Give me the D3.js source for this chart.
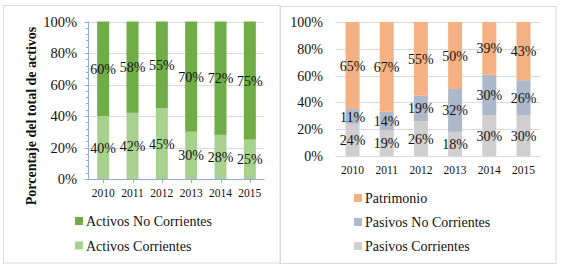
<!DOCTYPE html>
<html><head><meta charset="utf-8">
<script src="https://cdn.jsdelivr.net/npm/d3@7"></script>
<style>
body{margin:0;background:#fff;}
svg{display:block;}
text{font-family:"Liberation Serif","Times New Roman",serif;fill:#111;}
</style></head>
<body>
<svg id="c" width="562" height="268"></svg>
<script>
const years = ["2010","2011","2012","2013","2014","2015"];
const activosCorrientes = [40,42,45,30,28,25];
const activosNoCorrientes = [60,58,55,70,72,75];
const pasivosCorrientes = [24,19,26,18,30,30];
const pasivosNoCorrientes = [11,14,19,32,30,26];
const patrimonio = [65,67,55,50,39,43];
const yTicks = [0,0.2,0.4,0.6,0.8,1];
const yTitle = "Porcentaje del total de activos";

const svg = d3.select("#c");
const pct = d3.format(".0%");

// panel borders
svg.append("rect").attr("x",3.5).attr("y",5.5).attr("width",276.5).attr("height",257.5)
  .attr("fill","none").attr("stroke","#d9d9d9");
svg.append("rect").attr("x",280.5).attr("y",6.5).attr("width",275.5).attr("height",257)
  .attr("fill","none").attr("stroke","#d9d9d9");

function drawChart(cfg){
  const x = d3.scaleBand().domain(years).range(cfg.xr).paddingInner(0.59).paddingOuter(0.295);
  const y = d3.scaleLinear().domain([0,1]).range(cfg.yr);
  const g = svg.append("g");
  // gridlines
  g.selectAll(".grid").data(yTicks).join("line")
    .attr("x1",cfg.xr[0]).attr("x2",cfg.xr[1])
    .attr("y1",d=>Math.round(y(d))+0.5).attr("y2",d=>Math.round(y(d))+0.5)
    .attr("stroke","#d9d9d9");
  // y tick labels
  g.selectAll(".yl").data(yTicks).join("text")
    .attr("x",cfg.ylx).attr("y",d=>y(d)).attr("dy","0.36em")
    .attr("text-anchor","end").style("font-size",cfg.yfs+"px").text(pct);
  // stack
  const rows = years.map((yr,i)=>{const o={year:yr}; cfg.series.forEach(s=>o[s.key]=s.values[i]); return o;});
  const stack = d3.stack().keys(cfg.series.map(s=>s.key)).offset(d3.stackOffsetExpand);
  const layers = stack(rows);
  layers.forEach((layer,li)=>{
    const s = cfg.series[li];
    g.selectAll(null).data(layer).join("rect")
      .attr("x",d=>x(d.data.year)).attr("width",x.bandwidth())
      .attr("y",d=>y(d[1])).attr("height",d=>y(d[0])-y(d[1]))
      .attr("fill",s.color);
  });
  // axis (left chart)
  if(cfg.axis){
    const ax = cfg.xr[0];
    g.append("line").attr("x1",ax).attr("x2",ax).attr("y1",y(1)).attr("y2",y(0)+0.5).attr("stroke",cfg.axis);
    g.append("line").attr("x1",ax).attr("x2",cfg.xr[1]).attr("y1",Math.round(y(0))+0.5).attr("y2",Math.round(y(0))+0.5).attr("stroke",cfg.axis);
    const minor = d3.range(0,1.0001,0.04);
    g.selectAll(".mt").data(minor).join("line")
      .attr("x1",d=>ax-(Math.abs(d*5-Math.round(d*5))<1e-6?4:2.5)).attr("x2",ax)
      .attr("y1",d=>Math.round(y(d))+0.5).attr("y2",d=>Math.round(y(d))+0.5).attr("stroke",cfg.axis);
    g.selectAll(".ct").data(years).join("line")
      .attr("x1",d=>Math.round(x(d)+x.bandwidth()/2)+0.5).attr("x2",d=>Math.round(x(d)+x.bandwidth()/2)+0.5)
      .attr("y1",y(0)).attr("y2",y(0)+4).attr("stroke",cfg.axis);
  }
  // data labels
  layers.forEach((layer,li)=>{
    const s = cfg.series[li];
    g.selectAll(null).data(layer).join("text")
      .attr("x",d=>x(d.data.year)+x.bandwidth()/2)
      .attr("y",d=>y((d[0]+d[1])/2)).attr("dy","0.36em")
      .attr("text-anchor","middle").style("font-size","14px")
      .text((d,i)=>s.values[i]+"%");
  });
  // x labels
  g.selectAll(".xl").data(years).join("text")
    .attr("x",d=>x(d)+x.bandwidth()/2).attr("y",cfg.xly).attr("dy","0.36em")
    .attr("text-anchor","middle").style("font-size","11.5px").text(d=>d);
  // legend
  const leg = cfg.series.slice().reverse();
  leg.forEach((s,i)=>{
    const ly = cfg.legY + i*cfg.legStep;
    g.append("rect").attr("x",cfg.legX).attr("y",ly-4).attr("width",8).attr("height",8).attr("fill",s.color);
    g.append("text").attr("x",cfg.legX+11).attr("y",ly).attr("dy","0.36em")
      .style("font-size","14px").text(s.name);
  });
}

drawChart({
  xr:[88.5,264.5], yr:[179,21.5], ylx:77, yfs:14.5, xly:193, axis:"#8faadc",
  legX:75, legY:221, legStep:24.5,
  series:[
    {key:"ac",name:"Activos Corrientes",values:activosCorrientes,color:"#a9d18e"},
    {key:"anc",name:"Activos No Corrientes",values:activosNoCorrientes,color:"#70ad47"}
  ]
});
drawChart({
  xr:[335.4,540.6], yr:[156,22], ylx:323, yfs:14, xly:170, axis:null,
  legX:354, legY:198, legStep:24,
  series:[
    {key:"pc",name:"Pasivos Corrientes",values:pasivosCorrientes,color:"#d0cece"},
    {key:"pnc",name:"Pasivos No Corrientes",values:pasivosNoCorrientes,color:"#adb9ca"},
    {key:"pat",name:"Patrimonio",values:patrimonio,color:"#f4b183"}
  ]
});

svg.append("text").attr("transform","translate(31,116) rotate(-90)")
  .attr("text-anchor","middle").attr("dy","0.36em")
  .style("font-size","14px").style("font-weight","bold").text(yTitle);
</script>
</body></html>
